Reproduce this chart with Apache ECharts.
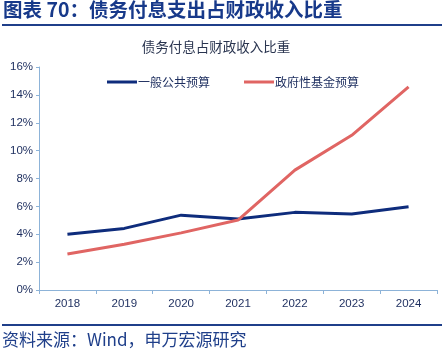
<!DOCTYPE html>
<html>
<head>
<meta charset="utf-8">
<script src="https://cdn.jsdelivr.net/npm/echarts@6/dist/echarts.min.js"></script>
<style>
  html, body { margin: 0; padding: 0; background: #fff; }
  #chart { width: 444px; height: 351px; }
</style>
</head>
<body>
<div id="chart"></div>
<script>
const years = ['2018', '2019', '2020', '2021', '2022', '2023', '2024']
const generalBudget = [4.0, 4.42, 5.37, 5.1, 5.57, 5.45, 5.97]
const fundBudget = [2.58, 3.28, 4.1, 5.02, 8.6, 11.1, 14.57]
const seriesNames = ['一般公共预算', '政府性基金预算']
const yTicks = [0, 2, 4, 6, 8, 10, 12, 14, 16]

const navy = '#0e2c7c'
const red = '#e06563'
const textColor = '#1c2d5e'
const axisColor = '#8db3d8'
const font = '"Noto Sans CJK SC", "Liberation Sans", sans-serif'

const chart = echarts.init(document.getElementById('chart'))

const option = {
  backgroundColor: '#fff',
  animation: false,
  textStyle: { fontFamily: font },
  title: {
    text: '债务付息占财政收入比重',
    left: 211,
    textAlign: 'center',
    top: 35,
    textStyle: { fontSize: 13.5, fontWeight: 'normal', color: '#2a3550', fontFamily: font }
  },
  legend: {
    top: 71,
    left: 102,
    itemWidth: 30,
    itemHeight: 3,
    itemGap: 34,
    icon: 'rect',
    data: seriesNames,
    textStyle: { fontSize: 12, color: textColor, padding: [0, 0, 0, -4] }
  },
  graphic: [
    {
      type: 'text',
      left: 3,
      top: 0,
      style: { text: '图表 70：债务付息支出占财政收入比重', fontSize: 19.5, fontWeight: 'bold', fill: '#17398a', fontFamily: font }
    },
    { type: 'rect', shape: { x: 2, y: 24, width: 440, height: 2 }, style: { fill: '#1f3f8a' } },
    { type: 'rect', shape: { x: 2, y: 324, width: 440, height: 2 }, style: { fill: '#1f3f8a' } },
    {
      type: 'text',
      left: 2,
      top: 331,
      style: { text: '资料来源：Wind，申万宏源研究', fontSize: 17, fill: '#1f3f8a', fontFamily: font }
    }
  ],
  grid: { left: 39, right: 7, top: 67, bottom: 61 },
  xAxis: {
    type: 'category',
    data: years,
    boundaryGap: true,
    axisLine: { lineStyle: { color: axisColor, width: 1 } },
    axisTick: { show: true, inside: false, length: 4, lineStyle: { color: axisColor } },
    axisLabel: { color: textColor, fontSize: 11.5, margin: 8, fontFamily: 'Liberation Sans' }
  },
  yAxis: {
    type: 'value',
    min: yTicks[0],
    max: yTicks[yTicks.length - 1],
    interval: 2,
    axisLine: { show: true, lineStyle: { color: axisColor, width: 1 } },
    axisTick: { show: true, length: 3, lineStyle: { color: axisColor } },
    splitLine: { show: false },
    axisLabel: { color: textColor, fontSize: 11.5, margin: 6, formatter: '{value}%', fontFamily: 'Liberation Sans' }
  },
  series: [
    {
      name: seriesNames[0],
      type: 'line',
      data: generalBudget,
      symbol: 'none',
      lineStyle: { color: navy, width: 3 },
      itemStyle: { color: navy }
    },
    {
      name: seriesNames[1],
      type: 'line',
      data: fundBudget,
      symbol: 'none',
      lineStyle: { color: red, width: 3 },
      itemStyle: { color: red }
    }
  ]
}

chart.setOption(option)
</script>
</body>
</html>
